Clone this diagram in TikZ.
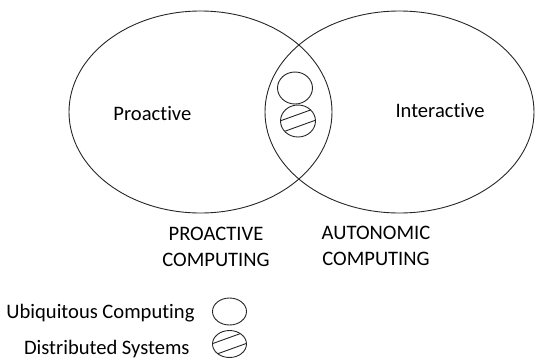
\documentclass[tikz,border=0pt]{standalone}
\usepackage{fontspec}
\setmainfont{Carlito}[Ligatures=NoCommon]
\usetikzlibrary{shapes.geometric}
\begin{document}
\begin{tikzpicture}[x=1pt,y=-1pt,line width=0.9pt,
  every node/.style={inner sep=0pt,align=center,font=\fontsize{20.5bp}{26bp}\selectfont},
  venn/.style={draw=black!85,ellipse,minimum height=202pt},
  ring/.style={draw=black!85,ellipse,minimum width=35pt,minimum height=32pt},
  hatch/.style={path picture={
    \draw ([shift={(-25pt,-2.5pt)}]path picture bounding box.center) -- ++(50pt,18pt);
    \draw ([shift={(-25pt,-14.5pt)}]path picture bounding box.center) -- ++(50pt,18pt);}}]
\useasboundingbox (0,0) rectangle (541,362);
% the two fields
\node[venn,minimum width=263pt] (pro) at (200.5,112) {};
\node[venn,minimum width=269pt] (inter) at (399.5,112) {};
\node[anchor=base] (prolbl) at (152.4,120) {Proactive};
\node[anchor=base] (interlbl) at (440,117.7) {Interactive};
% overlap
\node[ring] (ubi) at (295,88) {};
\node[ring,hatch] (dist) at (298,121) {};
\node (procomp) at (216,247) {PROACTIVE\\COMPUTING};
\node (autocomp) at (376,246) {AUTONOMIC\\COMPUTING};
% legend
\node[anchor=base east] (ubitxt) at (195,318) {Ubiquitous Computing};
\node[anchor=base east] (disttxt) at (190,354) {Distributed Systems};
\node[ring,minimum width=34pt,minimum height=27pt] (ubikey) at (229.5,311.5) {};
\node[ring,hatch,minimum width=34pt,minimum height=27pt] (distkey) at (229.5,344) {};
\end{tikzpicture}
\end{document}
